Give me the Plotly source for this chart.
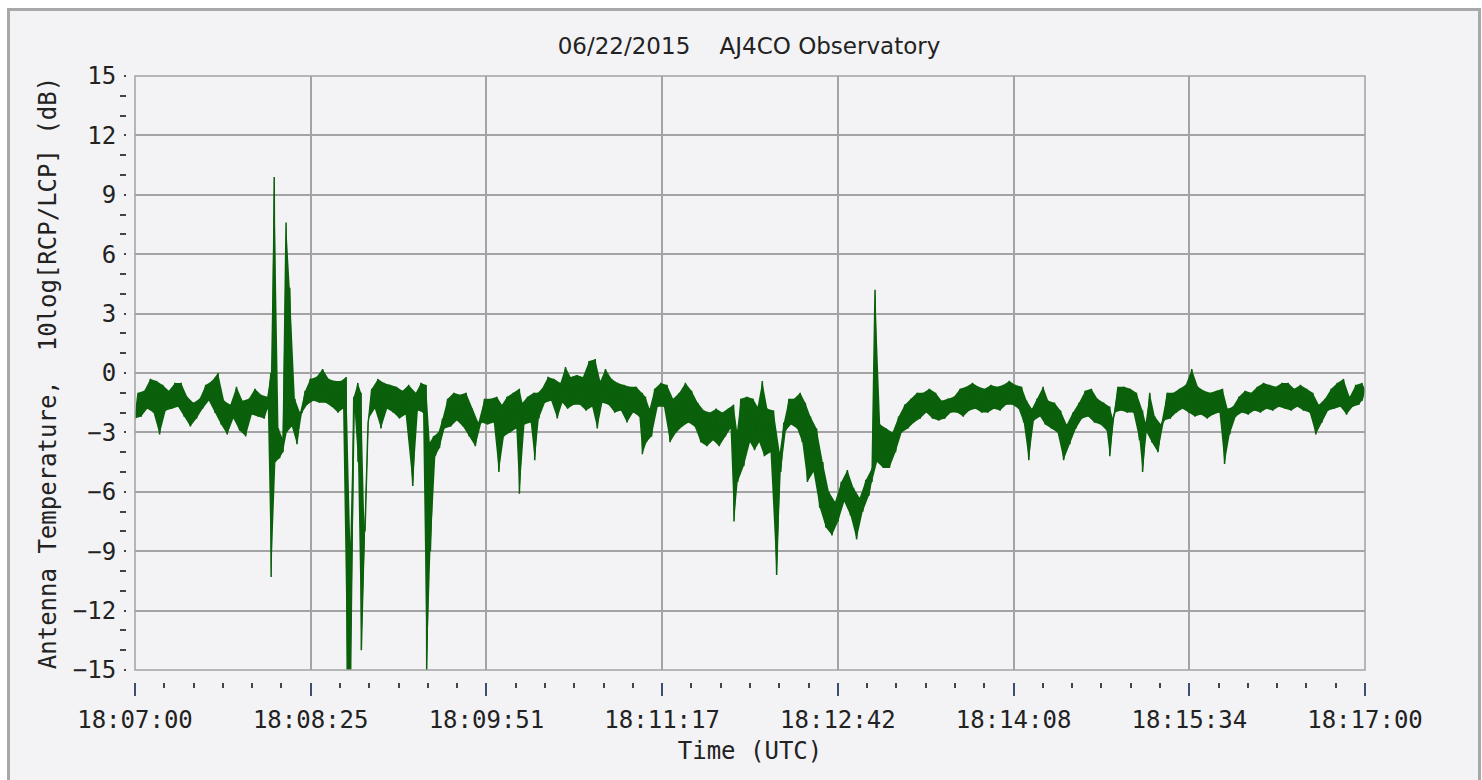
import plotly.graph_objects as go

# ---------------- data ----------------
# seconds after 18:07:00 UTC; each row = low / high edge of the noisy trace
sample_t = [0, 3, 6, 9, 12, 15, 18, 21, 24, 27, 30, 33, 36, 39, 42, 45, 48, 51, 54, 57,
            60, 63, 64.8, 66.4, 68.5, 70.5, 72.2, 74.0, 76.5, 79, 81.5, 84, 87, 90, 93, 96, 99,
            101.5, 103.5, 105.2, 107.2, 108.8, 110.4, 112.2, 114, 117, 120, 123, 126, 129, 132,
            135.5, 138, 140.5, 142.3, 144.1, 146.5, 148.5, 151, 154, 157, 160, 163, 166, 169,
            172, 175, 177.5, 180, 183, 186, 187.5, 190, 193, 195, 197, 200, 203, 206, 208.5,
            211, 214, 217, 220, 223, 225.5, 228, 231, 234, 237, 240, 243, 246, 247.5, 249.5,
            252, 255, 258, 261, 264, 267, 270, 273, 276, 279, 282, 285, 288, 290.5, 292.2,
            294, 297, 300, 302.2, 304.5, 307, 310, 313, 315, 317.5, 320, 323, 325.5, 328, 331,
            334, 337, 340, 343, 346, 349, 352, 355, 358, 359.5, 362, 365, 368, 371, 374, 377,
            380, 383, 386, 389, 392, 395, 398, 401, 404, 407, 410, 413, 416, 419, 422, 425,
            428, 431, 433.5, 436, 438.5, 441.5, 444, 447, 450, 453, 456, 459, 462, 465, 468,
            471, 474, 475.5, 478, 481, 484, 487, 490, 491.5, 493.5, 496, 499, 502, 505, 508,
            511, 514, 517, 520, 523, 526, 529, 531.5, 534, 537, 540, 543, 546, 549, 552, 555,
            558, 561, 564, 567, 570, 573, 576, 579, 582, 585, 588, 591, 594, 597, 598.5]

band_low = [-2.3, -2.2, -1.8, -2.0, -3.1, -1.9, -1.8, -1.7, -2.2, -2.7, -2.3, -1.8, -1.4, -2.0,
            -2.6, -3.1, -2.3, -2.9, -3.2, -2.1, -2.2, -2.3, -1.8, -10.3, -4.5, -4.3, -4.0, -3.0,
            -2.7, -3.6, -2.0, -1.6, -1.4, -1.5, -1.5, -1.7, -2.0, -1.8, -15.0, -15.0, -2.0, -4.5,
            -14.0, -8.0, -2.3, -1.8, -2.8, -1.8, -2.0, -2.3, -2.1, -5.7, -1.9, -2.0, -15.0, -9.0,
            -4.2, -3.8, -2.8, -2.7, -2.4, -2.7, -3.2, -3.7, -2.5, -2.6, -2.5, -5.0, -3.2, -3.0,
            -2.8, -6.1, -2.6, -2.5, -4.4, -2.3, -1.5, -1.4, -2.3, -1.5, -1.8, -1.6, -1.6, -1.9,
            -1.7, -2.8, -1.5, -1.6, -2.0, -1.9, -2.5, -2.0, -2.2, -4.1, -3.5, -3.2, -1.7, -1.7,
            -3.5, -3.0, -2.7, -2.5, -2.7, -3.5, -3.7, -3.4, -3.7, -3.2, -2.8, -7.5, -5.5, -4.7,
            -3.5, -3.9, -3.5, -4.2, -4.0, -10.2, -5.0, -2.9, -2.6, -2.8, -3.5, -5.5, -5.0, -6.8,
            -7.8, -8.2, -7.5, -6.5, -7.2, -8.4, -7.0, -6.2, -5.5, -4.5, -4.8, -4.8, -4.0, -3.0,
            -2.8, -2.5, -2.3, -2.0, -2.3, -2.4, -2.3, -2.0, -2.0, -2.2, -1.9, -1.8, -2.0, -2.0,
            -1.8, -1.9, -1.6, -1.6, -1.8, -2.5, -4.4, -2.4, -2.2, -2.6, -2.8, -3.0, -4.4, -3.6,
            -2.8, -2.3, -2.2, -2.5, -2.6, -2.9, -4.2, -2.0, -1.9, -2.0, -2.0, -3.4, -5.0, -3.0,
            -3.5, -4.0, -2.4, -2.3, -2.0, -1.8, -2.0, -2.2, -2.1, -2.3, -2.1, -2.0, -4.6, -3.1,
            -2.2, -2.0, -2.1, -1.9, -2.0, -1.8, -1.9, -1.7, -1.8, -1.9, -1.7, -1.9, -2.0, -3.1,
            -2.5, -1.9, -1.8, -1.7, -2.1, -1.7, -1.6, -1.4]

band_high = [-1.0, -0.9, -0.3, -0.4, -0.6, -0.9, -0.5, -0.5, -1.2, -1.5, -1.3, -0.6, -0.4, 0.0,
             -1.4, -1.6, -0.7, -1.4, -1.3, -0.8, -1.1, -1.2, 0.0, 9.9, -2.8, -3.3, 7.6, 4.3,
             -1.3, -2.0, -0.9, -0.3, -0.2, 0.2, -0.3, -0.4, -0.4, -0.2, -8.6, -1.2, -0.5, -1.0,
             -7.8, -2.5, -0.8, -0.3, -0.5, -0.6, -0.7, -0.9, -0.6, -1.0, -0.5, -0.6, -3.5, -3.2,
             -3.0, -2.3, -1.3, -1.0, -1.1, -1.0, -1.8, -2.5, -1.3, -1.3, -1.2, -1.6, -1.2, -1.0,
             -0.8, -1.5, -1.2, -1.0, -1.0, -0.8, -0.2, -0.3, -0.5, 0.3, -0.2, -0.1, -0.2, 0.6,
             0.7, -0.4, 0.2, -0.3, -0.5, -0.6, -0.7, -0.7, -1.0, -1.2, -1.8, -0.8, -0.5, -0.6,
             -1.3, -1.0, -0.5, -0.9, -1.5, -1.9, -2.0, -1.8, -2.0, -1.8, -1.6, -2.9, -1.3, -1.2,
             -1.3, -1.7, -0.4, -1.8, -1.9, -4.0, -2.5, -1.3, -1.3, -1.0, -1.5, -2.2, -2.8, -4.5,
             -6.0, -6.5, -5.5, -4.9, -5.8, -6.3, -5.4, -4.8, 4.2, -2.6, -2.8, -3.0, -2.2, -1.6,
             -1.3, -1.0, -1.0, -0.8, -1.0, -1.4, -1.3, -1.2, -0.8, -0.7, -0.5, -0.7, -0.8, -0.6,
             -0.7, -0.6, -0.4, -0.6, -0.7, -1.4, -1.8, -1.3, -0.7, -1.4, -1.5, -1.9, -2.6, -2.0,
             -1.5, -0.9, -0.8, -1.3, -1.5, -1.7, -2.3, -0.7, -0.7, -0.8, -1.0, -1.9, -2.5, -1.0,
             -2.2, -2.6, -1.0, -1.0, -0.8, -0.6, 0.2, -0.7, -0.9, -1.0, -0.9, -0.8, -1.8, -1.7,
             -1.2, -0.9, -1.0, -0.7, -0.5, -0.6, -0.7, -0.5, -0.5, -0.8, -0.6, -0.8, -1.0, -1.6,
             -1.3, -0.8, -0.5, -0.3, -1.2, -0.6, -0.5, -0.8]

x_tick_labels = ["18:07:00", "18:08:25", "18:09:51", "18:11:17",
                 "18:12:42", "18:14:08", "18:15:34", "18:17:00"]
y_tick_values = [-15, -12, -9, -6, -3, 0, 3, 6, 9, 12, 15]

chart_title = "06/22/2015\u00a0\u00a0\u00a0\u00a0AJ4CO Observatory"
x_title = "Time (UTC)"
y_title = "Antenna Temperature,  10log[RCP/LCP] (dB)"

# ---------------- build the trace (low edge, then high edge of each sample) --------
HALF_STEP = 1.5
trace_x, trace_y = [], []
for t, lo, hi in zip(sample_t, band_low, band_high):
    trace_x += [t, t + HALF_STEP]
    trace_y += [lo, hi]

# min/max envelope of the same samples, drawn as a filled band under the line
env_x = [t + HALF_STEP for t in sample_t] + list(reversed(sample_t))
env_y = list(band_high) + list(reversed(band_low))

TOTAL_S = 600
x_tick_vals = [i * TOTAL_S / 7 for i in range(8)]
x_minor_vals = [i * TOTAL_S / 42 for i in range(43) if i % 6]
y_minor_vals = [v for v in range(-15, 16) if v % 3]

W, H = 1482, 780
ML, MR, MT, MB = 126, 117, 76, 98
PW, PH = W - ML - MR, H - MT - MB

def px_x(px):
    return (px - ML) / PW

def px_y(py):
    return (H - MB - py) / PH

BG = "#f3f3f5"
GRID = "#a3a3a3"
TXT = "#222222"
GREEN = "#0b600b"
MONO = "DejaVu Sans Mono"

fig = go.Figure()
fig.add_trace(go.Scatter(x=env_x, y=env_y, mode="lines", fill="toself",
                         fillcolor=GREEN, line=dict(width=0, color=GREEN),
                         hoverinfo="skip", showlegend=False))
fig.add_trace(go.Scatter(x=trace_x, y=trace_y, mode="lines",
                         line=dict(color=GREEN, width=1.5, simplify=False),
                         hoverinfo="skip", showlegend=False))

fig.update_layout(
    width=W, height=H,
    margin=dict(l=ML, r=MR, t=MT, b=MB, pad=0),
    paper_bgcolor="white",
    plot_bgcolor=BG,
    showlegend=False,
    title=dict(text=chart_title, x=px_x(749), xref="paper", xanchor="center",
               y=1 - 46 / H, yref="container", yanchor="middle",
               font=dict(family="DejaVu Sans", size=23, color=TXT)),
    xaxis=dict(
        range=[0, TOTAL_S], domain=[px_x(135), 1], anchor="free", position=0,
        tickmode="array", tickvals=x_tick_vals, ticktext=x_tick_labels,
        ticks="outside", ticklen=13, tickwidth=2, tickcolor="#3d4f6e",
        ticklabelstandoff=3,
        tickfont=dict(family=MONO, size=24, color=TXT),
        showgrid=True, gridcolor=GRID, gridwidth=1.5,
        zeroline=False, showline=False,
        minor=dict(tickmode="array", tickvals=x_minor_vals, ticks="outside",
                   ticklen=5, tickwidth=2, tickcolor="#444444", showgrid=False),
        title=dict(text=x_title, font=dict(family=MONO, size=24, color=TXT), standoff=9),
    ),
    yaxis=dict(
        range=[-15, 15], domain=[px_y(670), 1], anchor="free", position=0,
        tickmode="array", tickvals=y_tick_values,
        ticks="outside", ticklen=2, tickwidth=2, tickcolor="#444444",
        ticklabelstandoff=3,
        tickfont=dict(family=MONO, size=24, color=TXT),
        showgrid=True, gridcolor=GRID, gridwidth=1.5,
        zeroline=False, showline=False,
        minor=dict(tickmode="array", tickvals=y_minor_vals, ticks="outside",
                   ticklen=6, tickwidth=2, tickcolor="#444444", showgrid=False),
        title=dict(text=y_title, font=dict(family=MONO, size=24, color=TXT), standoff=8),
    ),
    shapes=[
        dict(type="rect", xref="paper", yref="paper", layer="below",
             x0=px_x(8.5), x1=px_x(1479.5), y0=px_y(820), y1=px_y(9.5),
             fillcolor=BG, line=dict(color="#a8a8a8", width=3)),
        dict(type="rect", xref="x domain", yref="y domain", layer="above",
             x0=0, x1=1, y0=0, y1=1, line=dict(color=GRID, width=1.5)),
    ],
)

fig.write_html("out.html", include_plotlyjs=True,
               config={"displayModeBar": False},
               post_script="document.body.style.margin='0px';document.body.style.overflow='hidden';")
